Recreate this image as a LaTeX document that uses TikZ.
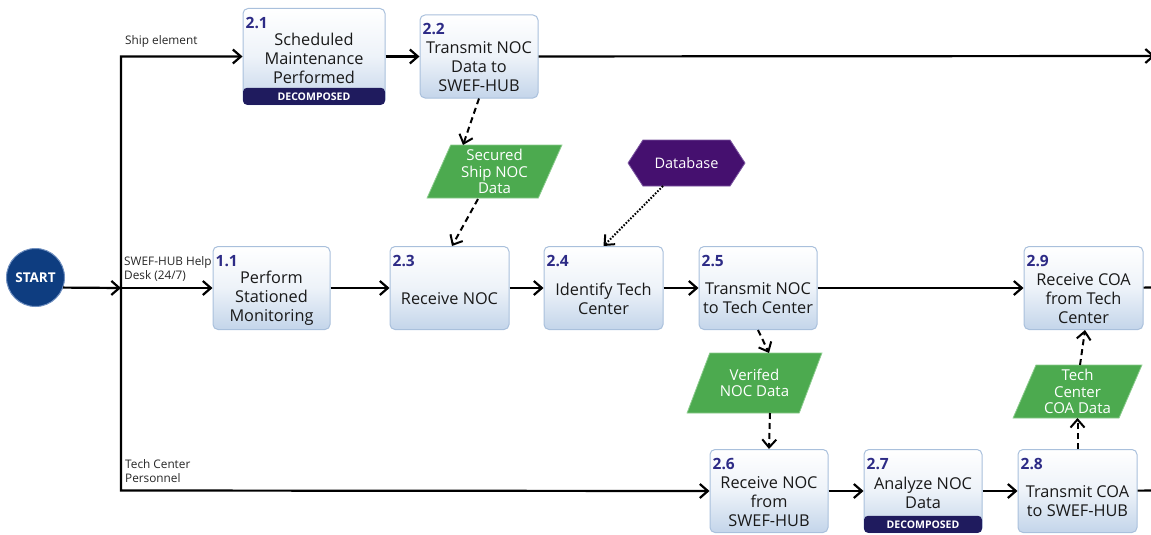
\documentclass[tikz,border=0pt]{standalone}
\usepackage{fontspec}
\setmainfont{Open Sans}
\usetikzlibrary{arrows.meta,shapes.geometric,shapes.symbols,calc}

\definecolor{boxedge}{HTML}{A9C0DC}
\definecolor{boxbot}{HTML}{C4D5EA}
\definecolor{numblue}{HTML}{2D2B86}
\definecolor{bandnavy}{HTML}{1F1B5E}
\definecolor{datagreen}{HTML}{4CAA4F}
\definecolor{dataedge}{HTML}{8BCB8D}
\definecolor{dbpurple}{HTML}{45106F}
\definecolor{dbedge}{HTML}{7B55A0}
\definecolor{startnavy}{HTML}{0E3D80}
\definecolor{startedge}{HTML}{6F8FBF}

\tikzset{
  >={Straight Barb[length=8pt,width=14pt]},
  procbox/.style={draw=boxedge, line width=1pt, rounded corners=5pt,
    top color=white, bottom color=boxbot, middle color=white!70!boxbot, inner sep=0pt},
  numlbl/.style={text=numblue, font=\fontsize{15.5}{15.5}\selectfont\bfseries,
    inner sep=0pt, anchor=north west},
  proctext/.style={align=center, text=black!90, font=\fontsize{16.3}{19}\selectfont, inner sep=0pt},
  band/.style={fill=bandnavy, rounded corners=4pt, text=white,
    font=\fontsize{10.5}{10.5}\selectfont\bfseries, inner sep=0pt, anchor=south},
  data/.style={trapezium, trapezium stretches=true, draw=dataedge, line width=0.8pt,
    fill=datagreen, text=white, align=center, font=\fontsize{15}{16.5}\selectfont, inner sep=0pt},
  dbase/.style={signal, signal to=east and west, signal pointer angle=114,
    draw=dbedge, line width=0.8pt, fill=dbpurple, text=white,
    font=\fontsize{14.5}{16}\selectfont, inner sep=0pt},
  startc/.style={circle, minimum size=58pt, fill=startnavy, draw=startedge, line width=1pt,
    text=white, font=\fontsize{13.5}{13.5}\selectfont\bfseries, inner sep=0pt},
  plain/.style={line width=2.2pt},
  flow/.style={line width=2.2pt, ->},
  dflow/.style={line width=2pt, dash pattern=on 6pt off 4pt, ->},
  dotflow/.style={line width=2pt, dash pattern=on 1.6pt off 1.6pt, ->},
  lanelbl/.style={anchor=north west, align=left, font=\fontsize{11.8}{14.5}\selectfont,
    inner sep=0pt, text=black!85},
}

% process box: name, centre x, top y, width, height, number, text, decomposed flag
\newcommand\procbox[8]{%
  \node[procbox, minimum width=#4pt, minimum height=#5pt, anchor=north] (#1) at (#2,#3) {};
  \node[numlbl] (#1n) at ([xshift=3pt,yshift=-9pt]#1.north west) {#6};
  \ifnum#8=1\relax
    \node[band, minimum width=#4pt, minimum height=17pt] (#1d) at (#1.south) {DECOMPOSED};
    \pgfmathsetmacro\tcy{#3+(22+#5-17)/2}%
  \else
    \pgfmathsetmacro\tcy{#3+(22+#5)/2}%
  \fi
  \node[proctext] (#1t) at (#2,\tcy) {#7};
}

\begin{document}
\begin{tikzpicture}[x=1pt, y=-1pt]
\useasboundingbox (0,0) rectangle (1151,535);
\clip (0,0) rectangle (1151,535);

% lane labels
\node[lanelbl] (lship) at (125,35) {Ship element};
\node[lanelbl] (lhub) at (124,256) {SWEF-HUB Help\\Desk (24/7)};
\node[lanelbl] (ltech) at (125,459) {Tech Center\\Personnel};

% start event
\node[startc] (start) at (35.5,277.5) {START};

% process steps
\procbox{b21}{314}{8}{142}{96}{2.1}{Scheduled\\Maintenance\\Performed}{1}
\procbox{b22}{479}{14.5}{118}{83}{2.2}{Transmit NOC\\Data to\\SWEF-HUB}{0}
\procbox{b11}{271.5}{246}{117}{83}{1.1}{Perform\\Stationed\\Monitoring}{0}
\procbox{b23}{449.5}{246}{119}{83}{2.3}{Receive NOC}{0}
\procbox{b24}{603.5}{246}{119}{83}{2.4}{Identify Tech\\Center}{0}
\procbox{b25}{758}{246}{118}{83}{2.5}{Transmit NOC\\to Tech Center}{0}
\procbox{b29}{1083.5}{246}{119}{83}{2.9}{Receive COA\\from Tech\\Center}{0}
\procbox{b26}{769}{449}{118}{83}{2.6}{Receive NOC\\from\\SWEF-HUB}{0}
\procbox{b27}{923}{449}{118}{83}{2.7}{Analyze NOC\\Data}{1}
\procbox{b28}{1077.5}{449}{119}{83}{2.8}{Transmit COA\\to SWEF-HUB}{0}

% data items
\node[data, trapezium left angle=68, trapezium right angle=112,
      minimum width=135pt, minimum height=53pt] (sec) at (494.5,171.5) {Secured\\Ship NOC\\Data};
\node[data, trapezium left angle=58, trapezium right angle=122,
      minimum width=135pt, minimum height=60pt] (ver) at (754.5,383) {Verifed\\NOC Data};
\node[data, trapezium left angle=67.5, trapezium right angle=112.5,
      minimum width=129pt, minimum height=53pt] (coa) at (1077.5,391.5) {Tech\\Center\\COA Data};
\node[dbase, minimum width=117pt, minimum height=46pt] (db) at (686.5,163) {Database};

% lane junctions and off-page ends
\coordinate (jn) at (121,288);
\coordinate (jbot) at (121,490.5);
\coordinate (ex1) at (1155,56);
\coordinate (ex2) at (1160,287.5);
\coordinate (ex3) at (1160,490.5);

% control flow
\draw[plain, <->] (b21.west) -| (jbot) -- (b26.west);
\draw[flow] (start.-20) -- (jn);
\draw[flow] (jn) -- (b11);
\draw[flow] (b21) -- (b22);
\draw[flow] (b22) -- (ex1);
\draw[flow] (b11) -- (b23);
\draw[flow] (b23) -- (b24);
\draw[flow] (b24) -- (b25);
\draw[flow] (b25) -- (b29);
\draw[plain] (b29) -- (ex2);
\draw[flow] (b26) -- (b27);
\draw[flow] (b27) -- (b28);
\draw[plain] (b28) -- (ex3);

% data flow
\draw[dflow] (b22.south) -- ($(sec.center)+(-31.5,-26.5)$);
\draw[dflow] ($(sec.center)+(-16.5,27.5)$) -- ($(b23.north)+(2.5,0)$);
\draw[dotflow] ($(db.center)+(-23.5,23)$) -- (b24.north);
\draw[dflow] (b25.south) -- ($(ver.center)+(14.5,-30)$);
\draw[dflow] ($(ver.center)+(15.5,30)$) -- (b26.north);
\draw[dflow] (b28.north) -- ($(coa.center)+(0,26.5)$);
\draw[dflow] ($(coa.center)+(2.5,-26.5)$) -- ($(b29.south)+(1.5,0)$);
\end{tikzpicture}
\end{document}
